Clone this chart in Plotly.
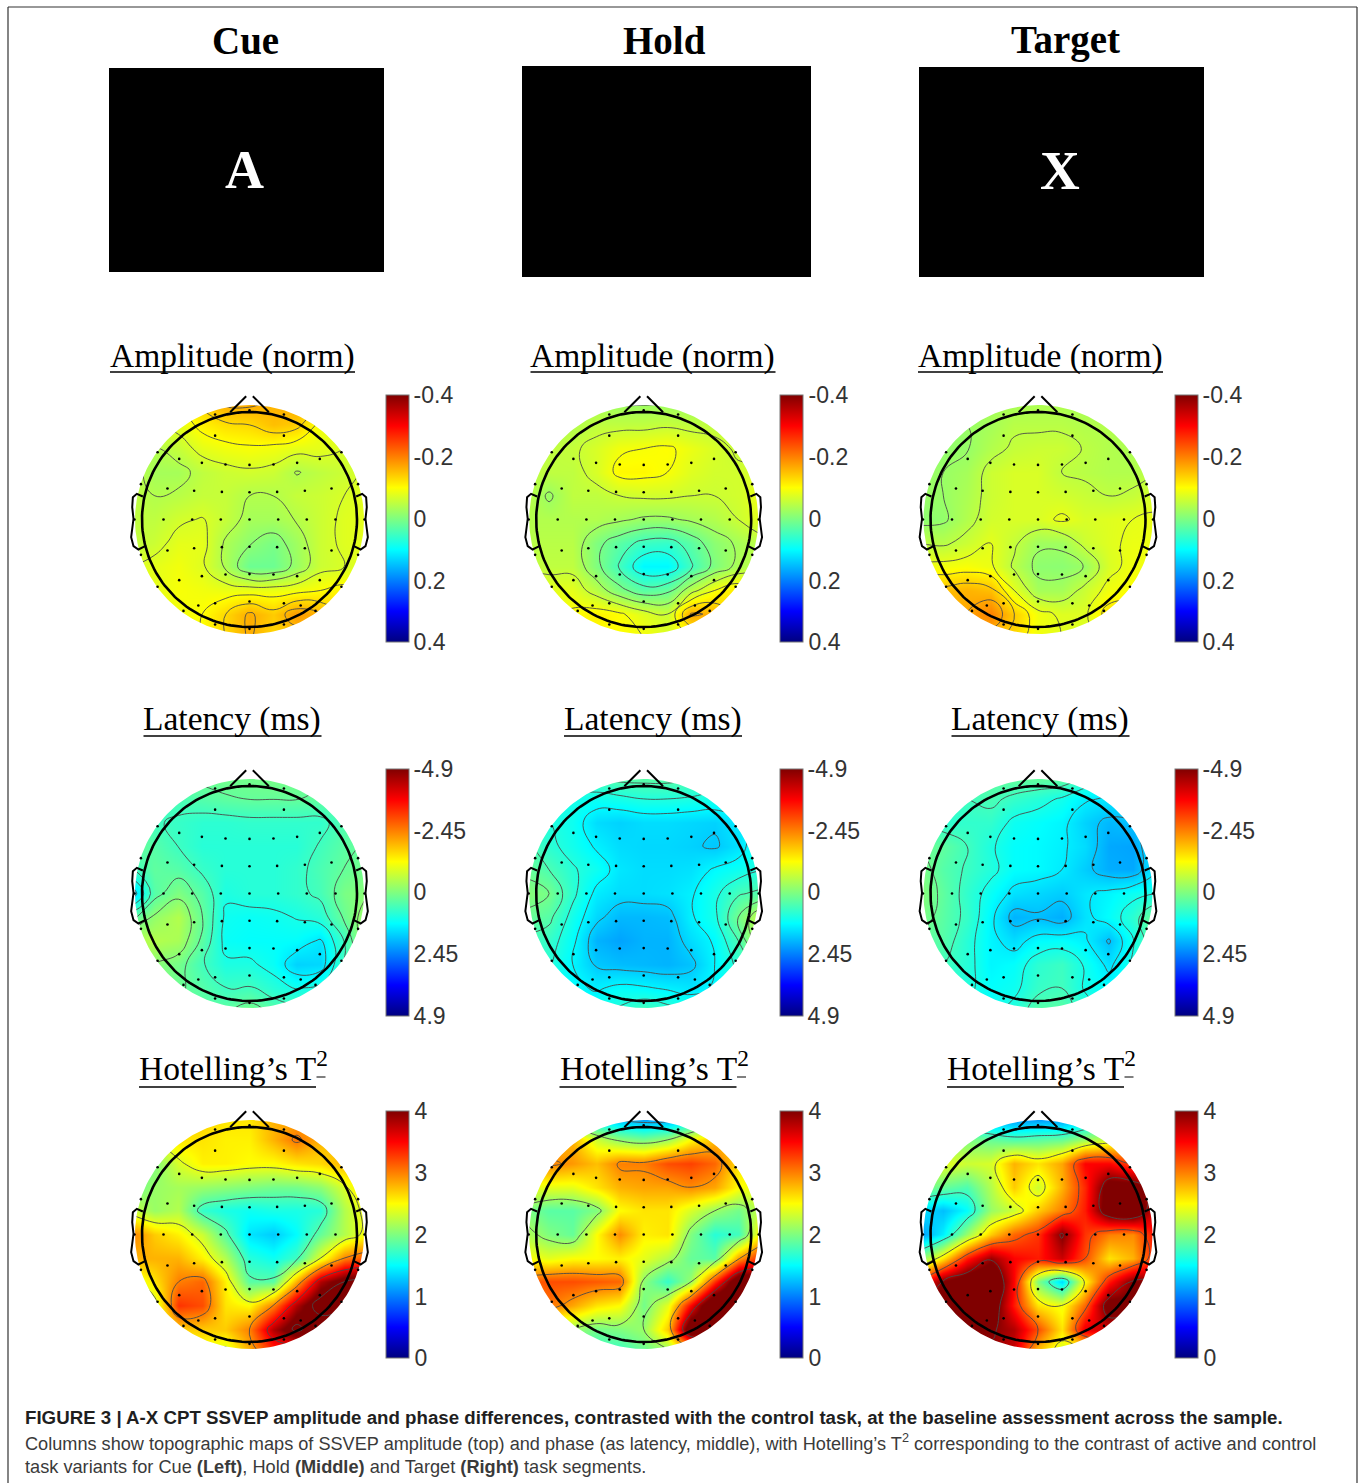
import numpy as np
import plotly.graph_objects as go

# ---------- values ----------
grid_x = [-1.1, -0.88, -0.66, -0.44, -0.22, 0, 0.22, 0.44, 0.66, 0.88, 1.1]
grid_y = [1.1, 0.88, 0.66, 0.44, 0.22, 0, -0.22, -0.44, -0.66, -0.88, -1.1]

amp_cue = [
 [-.08,-.08,-.1,-.14,-.17,-.17,-.16,-.17,-.13,-.08,-.08],
 [-.07,-.07,-.08,-.11,-.125,-.13,-.15,-.14,-.09,-.075,-.07],
 [-.05,-.04,-.055,-.08,-.09,-.095,-.09,-.08,-.08,-.07,-.07],
 [-.05,-.03,-.03,-.05,-.06,-.065,-.06,-.038,-.05,-.06,-.075],
 [-.05,-.04,-.045,-.055,-.055,-.04,-.04,-.055,-.06,-.07,-.08],
 [-.05,-.05,-.065,-.072,-.055,-.03,-.03,-.042,-.06,-.075,-.08],
 [-.05,-.06,-.08,-.08,-.035,-.012,.005,-.025,-.06,-.075,-.08],
 [-.07,-.08,-.09,-.075,-.035,.015,.015,-.02,-.06,-.07,-.08],
 [-.08,-.08,-.095,-.09,-.085,-.085,-.085,-.09,-.1,-.11,-.1],
 [-.08,-.08,-.09,-.1,-.13,-.165,-.14,-.18,-.16,-.12,-.1],
 [-.08,-.08,-.09,-.1,-.13,-.165,-.13,-.14,-.13,-.1,-.1]]
amp_hold = [
 [-.03,-.03,-.03,-.03,-.02,-.02,-.02,-.02,-.03,-.03,-.03],
 [-.04,-.04,-.04,-.05,-.05,-.05,-.055,-.05,-.05,-.04,-.04],
 [-.05,-.05,-.055,-.07,-.09,-.095,-.1,-.085,-.07,-.055,-.05],
 [-.05,-.05,-.05,-.07,-.105,-.105,-.095,-.075,-.065,-.065,-.07],
 [-.05,-.02,-.05,-.05,-.06,-.065,-.065,-.06,-.06,-.065,-.09],
 [-.04,-.04,-.04,-.04,-.03,-.02,-.02,-.03,-.04,-.06,-.08],
 [-.045,-.045,-.045,-.0,.03,.055,.06,.03,-.01,-.03,-.05],
 [-.055,-.05,-.05,.0,.05,.105,.105,.05,.0,-.035,-.05],
 [-.09,-.08,-.08,-.045,.0,.03,.02,-.045,-.095,-.12,-.09],
 [-.09,-.09,-.1,-.11,-.1,-.075,-.06,-.17,-.16,-.12,-.09],
 [-.09,-.09,-.09,-.1,-.1,-.095,-.075,-.09,-.1,-.09,-.09]]
amp_target = [
 [-.03,-.03,-.03,-.03,-.03,-.035,-.035,-.03,-.03,-.03,-.03],
 [-.02,-.015,-.02,-.03,-.045,-.045,-.045,-.04,-.04,-.03,-.03],
 [-.02,-.015,-.018,-.04,-.055,-.06,-.06,-.048,-.04,-.035,-.035],
 [-.02,-.02,-.03,-.06,-.07,-.07,-.05,-.045,-.04,-.04,-.05],
 [-.02,-.02,-.035,-.06,-.07,-.07,-.065,-.058,-.05,-.055,-.07],
 [-.01,-.015,-.04,-.065,-.07,-.07,-.085,-.07,-.075,-.08,-.085],
 [-.05,-.045,-.06,-.08,-.055,-.025,-.025,-.06,-.075,-.085,-.085],
 [-.09,-.09,-.095,-.085,-.045,-.012,-.01,-.021,-.07,-.09,-.09],
 [-.16,-.15,-.16,-.15,-.08,-.03,-.03,-.06,-.09,-.1,-.1],
 [-.16,-.16,-.17,-.2,-.14,-.09,-.075,-.075,-.125,-.12,-.1],
 [-.14,-.14,-.15,-.15,-.13,-.09,-.08,-.07,-.09,-.09,-.09]]
lat_cue = [
 [.2,.2,.2,.15,.1,.1,.05,.1,.2,.2,.2],
 [.5,.5,.5,.4,.3,.25,.25,.25,.3,.3,.3],
 [.4,.6,.7,.8,.8,.75,.75,.75,.75,.45,.3],
 [.2,.4,.65,.85,.85,.85,.85,.85,.6,.35,.2],
 [.7,.3,.4,.7,.85,.85,.85,.75,.5,.25,.1],
 [1.7,.4,.0,.4,.95,.85,.85,.75,.55,.05,-.1],
 [.4,-.2,-.5,.25,1.1,1.15,1.1,1.0,.85,.2,-.35],
 [-.5,-.5,-.4,.35,1.15,1.2,1.2,1.2,1.45,.65,-.5],
 [-.3,-.1,.1,.6,.95,.95,1.15,1.65,1.6,.6,-.2],
 [0,0,.2,.4,.65,.6,.85,1.05,.9,.5,.2],
 [.2,.2,.25,.3,.3,.05,.35,.45,.4,.3,.2]]
lat_hold = [
 [.6,.5,.5,.4,.3,.3,.3,.4,.6,.7,.7],
 [.9,.9,1.0,1.1,1.0,.9,.9,.95,1.0,.9,.8],
 [.9,.9,1.1,1.55,1.65,1.55,1.55,1.6,1.65,1.4,1.0],
 [.4,.8,1.05,1.35,1.55,1.6,1.6,1.65,1.75,1.5,.9],
 [.2,.5,.85,1.1,1.45,1.55,1.55,1.5,1.25,1.1,.9],
 [-.1,.1,.8,1.4,1.55,1.55,1.5,1.35,1.0,.55,.4],
 [.2,.4,1.05,1.6,1.9,1.9,1.85,1.35,1.0,.1,-.7],
 [.6,.7,1.2,1.95,2.1,1.95,1.95,1.55,1.25,.5,-.8],
 [.7,.85,1.3,1.75,1.85,1.9,1.95,1.8,1.3,.8,.3],
 [.9,1.0,1.2,1.35,1.2,1.25,1.35,1.45,1.25,.9,.8],
 [1.0,1.0,1.1,1.0,.8,.5,.7,.9,.9,.9,.9]]
lat_target = [
 [.4,.4,.3,.3,.2,.2,.2,.6,.9,.9,.9],
 [.7,.7,.6,.5,.7,.85,1.05,1.35,1.45,1.3,1.1],
 [.7,.8,.75,.75,1.1,1.2,1.3,1.65,1.9,1.8,1.3],
 [.2,.3,.6,.95,1.2,1.25,1.35,1.55,2.05,2.1,1.3],
 [.0,.4,.65,.9,1.2,1.25,1.4,1.7,2.0,2.05,1.4],
 [-.1,.3,.75,1.15,1.5,1.6,1.7,1.45,1.3,1.1,1.0],
 [.0,.35,.7,1.3,1.95,1.85,2.0,1.5,1.2,.8,.1],
 [.3,.4,.85,1.3,1.55,1.25,1.2,1.35,1.85,1.05,.2],
 [.4,.6,.85,1.3,1.2,.8,.65,1.05,1.5,.95,.5],
 [.8,.8,.9,1.2,1.1,.7,.6,1.05,1.2,1.0,.8],
 [.9,.9,1.0,1.1,.85,.35,.35,.8,1.0,.9,.9]]
hot_cue = [
 [2.5,2.6,2.7,2.7,2.6,2.6,2.8,2.8,2.8,2.7,2.6],
 [2.2,2.4,2.6,2.6,2.55,2.55,2.8,3.05,2.8,2.7,2.6],
 [1.9,2.0,2.35,2.55,2.55,2.5,2.5,2.6,2.65,2.8,2.8],
 [1.9,2.1,2.15,2.1,2.05,2.0,1.95,1.95,2.05,2.35,2.7],
 [2.3,2.1,2.2,1.7,1.6,1.55,1.6,1.6,1.65,2.2,2.5],
 [3.0,2.7,2.55,2.3,1.85,1.4,1.3,1.5,1.9,2.2,2.5],
 [2.8,2.8,2.8,2.55,2.2,1.65,1.55,1.75,2.4,3.0,3.2],
 [2.3,2.6,3.0,3.1,2.55,1.85,1.85,2.8,3.8,4.2,4.3],
 [2.0,2.3,3.3,3.2,2.6,2.5,3.0,3.8,4.4,4.4,4.2],
 [2.2,2.2,2.7,2.7,2.7,3.0,3.8,4.3,3.9,3.5,3.2],
 [2.0,2.0,2.2,2.4,2.3,2.8,3.3,3.2,3.0,2.8,2.8]]
hot_hold = [
 [1.8,1.6,1.5,1.3,1.1,1.0,1.0,1.2,1.6,1.8,1.9],
 [2.5,2.7,2.8,2.3,2.05,1.95,2.1,2.5,2.75,2.6,2.5],
 [2.8,3.0,2.9,2.75,3.0,3.0,3.2,3.25,3.1,2.6,2.5],
 [2.4,2.4,2.4,2.6,2.8,2.85,2.85,2.95,2.85,2.5,2.4],
 [2.0,1.85,1.85,2.0,2.5,2.6,2.6,2.35,2.1,1.95,2.3],
 [2.2,2.0,1.9,2.5,2.95,2.55,2.6,2.0,1.65,1.75,2.6],
 [2.5,2.4,2.5,2.5,2.55,2.4,2.2,1.9,1.85,2.9,3.4],
 [3.1,3.2,3.2,3.15,3.1,2.05,1.7,2.1,3.3,4.4,4.4],
 [2.8,3.05,2.85,2.6,2.5,1.95,2.4,3.5,4.6,4.6,4.2],
 [2.2,2.2,2.1,1.95,2.0,2.1,2.7,4.4,4.2,3.5,3.2],
 [2.0,1.9,1.8,1.7,1.7,1.9,2.0,2.5,2.4,2.4,2.3]]
hot_target = [
 [1.6,1.5,1.3,1.1,1.0,1.0,1.0,1.2,1.5,1.8,2.2],
 [2.3,2.1,2.0,1.9,1.8,1.85,1.9,2.1,2.3,2.5,2.7],
 [2.4,2.4,2.3,2.35,2.8,2.6,2.85,3.5,3.5,3.2,3.4],
 [2.0,1.9,1.8,2.2,2.7,2.3,2.8,3.35,4.2,4.2,3.7],
 [1.4,1.25,1.5,2.1,2.3,2.7,3.0,3.4,4.25,4.4,3.6],
 [1.1,1.45,2.1,2.7,3.1,3.3,4.0,3.3,3.0,2.95,3.5],
 [2.0,2.6,3.4,3.9,3.5,3.4,3.7,3.2,2.6,2.8,3.4],
 [3.3,4.0,4.3,4.5,3.5,2.0,1.35,2.5,3.4,4.0,4.0],
 [3.6,4.3,4.4,4.3,3.4,2.6,2.45,3.1,4.2,4.1,3.8],
 [3.6,3.8,4.0,4.0,3.8,3.2,2.6,3.6,3.7,3.5,3.4],
 [3.4,3.6,3.7,3.9,3.7,2.7,2.3,2.3,2.4,2.5,2.5]]

panels = [amp_cue, amp_hold, amp_target,
          lat_cue, lat_hold, lat_target,
          hot_cue, hot_hold, hot_target]
# lowest contour level and level spacing per panel (colour scale units, as drawn)
contour_start = [.01, -.08, .02, -1.4, -1.7, -1.8, 1.8, 1.25, 1.7]
contour_step = [.03, .035, .03, .38, .4, .4, .6, .85, .75]

electrode_x = [-.32,0,.32, -.32,.32,
    -.855,-.654,-.443,-.223,0,.223,.443,.654,.855,
    -1.01,-.763,-.515,-.257,0,.257,.515,.763,1.01,
    -1.07,-.8,-.533,-.267,0,.267,.533,.8,1.07,
    -1.01,-.763,-.515,-.257,0,.257,.515,.763,1.01,
    -.855,-.654,-.443,-.223,0,.223,.443,.654,.855,
    -.614,-.476,-.32,0,.32,.476,.614, -.32,0,.32]
electrode_y = [.977,1.015,.977, .78,.78,
    .626,.564,.527,.512,.508,.512,.527,.564,.626,
    .329,.288,.267,.257,.254,.257,.267,.288,.329,
    0,0,0,0,0,0,0,0,0,
    -.329,-.288,-.267,-.257,-.254,-.257,-.267,-.288,-.329,
    -.626,-.564,-.527,-.512,-.508,-.512,-.527,-.564,-.626,
    -.85,-.8,-.78,-.763,-.78,-.8,-.85, -.977,-1.017,-.977]
nose_x = [-.18,-.031,None,.031,.18]
nose_y = [.998,1.147,None,1.147,.998]
ear_x = [-.992,-1.048,-1.085,-1.091,-1.079,-1.101,-1.079,-1.033,-.971]
ear_y = [.214,.239,.208,.115,.006,-.164,-.248,-.279,-.248]

amp_ticks = ['-0.4', '-0.2', '0', '0.2', '0.4']
lat_ticks = ['-4.9', '-2.45', '0', '2.45', '4.9']
hot_ticks = ['4', '3', '2', '1', '0']
column_titles = ['Cue', 'Hold', 'Target']
row_titles = ['Amplitude (norm)', 'Latency (ms)', 'Hotelling’s T']
caption_1 = '<b>FIGURE 3 | A-X CPT SSVEP amplitude and phase differences, contrasted with the control task, at the baseline assessment across the sample.</b>'
caption_2 = 'Columns show topographic maps of SSVEP amplitude (top) and phase (as latency, middle), with Hotelling’s T<sup>2</sup> corresponding to the contrast of active and control'
caption_3 = 'task variants for Cue <b>(Left)</b>, Hold <b>(Middle)</b> and Target <b>(Right)</b> task segments.'

# ---------- layout constants (pixels of the 1360x1483 page) ----------
W, H = 1360, 1483
HEAD_PX = 107.5
AXIS_HALF = 1.25
COL_CX = [249.5, 643.7, 1038]
ROW_CY = [519.5, 893.5, 1234.5]
BAR_X = [385.5, 780, 1174.5]
BAR_T = [395.5, 769, 1111.5]
BAR_LEN = 246.5
TICK_GAP = [[0, 1, 0], [0, 0, 0], [1, 1, 1]]
SERIF = 'Liberation Serif'
SANS = 'Liberation Sans'

JET = [[0, 'rgb(0,0,128)'], [.125, 'rgb(0,0,255)'], [.375, 'rgb(0,255,255)'],
       [.625, 'rgb(255,255,0)'], [.875, 'rgb(255,0,0)'], [1, 'rgb(128,0,0)']]

def px(x):
    return x / W
def py(y):
    return 1 - y / H

# white surround hides everything outside the coloured disc
t = np.linspace(0, -2 * np.pi, 181)
S = AXIS_HALF + .05
mask_x = [S, S, -S, -S, S, S] + list(1.065 * np.cos(t))
mask_y = [0, S, S, -S, -S, 0] + list(1.065 * np.sin(t))
t2 = np.linspace(0, 2 * np.pi, 181)
circle_x, circle_y = np.cos(t2), np.sin(t2)

fig = go.Figure()
layout = {}
for r in range(3):
    for c in range(3):
        i = r * 3 + c
        name = '' if i == 0 else str(i + 1)
        half = AXIS_HALF * HEAD_PX
        layout['xaxis' + name] = dict(
            domain=[px(COL_CX[c] - half), px(COL_CX[c] + half)],
            range=[-AXIS_HALF, AXIS_HALF], visible=False, fixedrange=True,
            anchor='y' + name)
        layout['yaxis' + name] = dict(
            domain=[py(ROW_CY[r] + half), py(ROW_CY[r] - half)],
            range=[-AXIS_HALF, AXIS_HALF], visible=False, fixedrange=True,
            anchor='x' + name)
        xa, ya = 'x' + name, 'y' + name

        values = np.array(panels[i], dtype=float)
        # the first two rows have their warm end at the negative labels
        if r < 2:
            values = -values
        limit = [.4, 4.9, None][r]
        zmin, zmax = (-limit, limit) if limit else (0, 4)
        ticktext = [amp_ticks, lat_ticks, hot_ticks][r]
        tickvals = list(np.linspace(zmax, zmin, 5))

        fig.add_trace(go.Heatmap(
            x=grid_x, y=grid_y, z=values, xaxis=xa, yaxis=ya,
            colorscale=JET, zmin=zmin, zmax=zmax, zsmooth='best', hoverinfo='skip',
            colorbar=dict(
                x=px(BAR_X[c]), xanchor='left', xpad=0, ypad=0,
                y=py(BAR_T[r] + BAR_LEN / 2), yanchor='middle',
                len=BAR_LEN / H, lenmode='fraction',
                thickness=22.5, thicknessmode='pixels',
                outlinecolor='#777', outlinewidth=1,
                tickmode='array', tickvals=tickvals, ticktext=ticktext,
                ticks='outside', ticklen=TICK_GAP[r][c], tickcolor='rgba(0,0,0,0)',
                tickfont=dict(family=SANS, size=23, color='#333'))))
        # contour levels use the drawn sign
        lo = contour_start[i]
        fig.add_trace(go.Contour(
            x=grid_x, y=grid_y, z=values, xaxis=xa, yaxis=ya, showscale=False,
            contours=dict(coloring='none', start=lo, end=6, size=contour_step[i]),
            line=dict(color='#4a4a4a', width=.9, smoothing=1.3), hoverinfo='skip'))
        fig.add_trace(go.Scatter(
            x=mask_x, y=mask_y, xaxis=xa, yaxis=ya, mode='lines', fill='toself',
            fillcolor='white', line=dict(width=0, color='white'),
            hoverinfo='skip', showlegend=False))
        fig.add_trace(go.Scatter(
            x=electrode_x, y=electrode_y, xaxis=xa, yaxis=ya, mode='markers',
            marker=dict(size=2.6, color='black'), hoverinfo='skip', showlegend=False))
        fig.add_trace(go.Scatter(
            x=circle_x, y=circle_y, xaxis=xa, yaxis=ya, mode='lines',
            line=dict(color='black', width=2.6), hoverinfo='skip', showlegend=False))
        fig.add_trace(go.Scatter(
            x=nose_x + [None] + ear_x + [None] + [-v for v in ear_x],
            y=nose_y + [None] + ear_y + [None] + ear_y,
            xaxis=xa, yaxis=ya, mode='lines', line=dict(color='black', width=2),
            hoverinfo='skip', showlegend=False))

shapes = []
def rect(x0, y0, x1, y1, fill):
    shapes.append(dict(type='rect', xref='paper', yref='paper', layer='below',
                       x0=px(x0), x1=px(x1), y0=py(y1), y1=py(y0),
                       fillcolor=fill, line=dict(width=0)))
def rule(x0, y0, x1, y1, color='#222', width=1.4):
    shapes.append(dict(type='line', xref='paper', yref='paper', x0=px(x0), x1=px(x1),
                       y0=py(y0), y1=py(y1), line=dict(color=color, width=width)))

# frame, open at the bottom
rule(8, 7, 1357, 7, '#333', 1.2)
rule(8, 7, 8, 1483, '#333', 1.2)
rule(1357, 7, 1357, 1483, '#333', 1.2)
# stimulus screens
rect(109, 68, 384, 272, 'black')
rect(522, 66, 811, 277, 'black')
rect(919, 67, 1204, 277, 'black')

anns = []
def text(x, y, s, size, family=SERIF, color='black', anchor='center'):
    anns.append(dict(xref='paper', yref='paper', x=px(x), y=py(y), text=s, showarrow=False,
                     xanchor=anchor, yanchor='middle', align='left', borderpad=0,
                     font=dict(family=family, size=size, color=color)))

for x, s in zip([245, 664, 1065], column_titles):
    text(x, 40, '<b>%s</b>' % s, 39)
text(244.5, 170, '<b>A</b>', 54, color='white')
text(1060, 170, '<b>X</b>', 55, color='white')

sub_cx = [232.5, 653, 1040.5]
rule_half = [122.5, 89, 88.5]
sub_y = [356, 719, 1066]
rule_y = [372, 736, 1087]
for r, title in enumerate(row_titles):
    for c in range(3):
        if r < 2:
            text(sub_cx[c] - .5, sub_y[r], title, 33.5)
            rule(sub_cx[c] - rule_half[r], rule_y[r], sub_cx[c] + rule_half[r], rule_y[r], 'black', 1.4)
        else:
            text(sub_cx[c] - 94.5, sub_y[r], title + '<sup>2</sup>', 33.5, anchor='left')
            rule(sub_cx[c] - 93.5, rule_y[r], sub_cx[c] + 83.5, rule_y[r], 'black', 1.4)
            rule(sub_cx[c] + 84, rule_y[r] - 10, sub_cx[c] + 93, rule_y[r] - 10, 'black', 1)

text(24, 1417, caption_1, 18.7, SANS, '#1f1f1f', 'left')
text(24, 1442, caption_2, 18.15, SANS, '#3a3a3a', 'left')
text(24, 1467, caption_3, 18.2, SANS, '#3a3a3a', 'left')

fig.update_layout(width=W, height=H, autosize=False,
                  margin=dict(l=0, r=0, t=0, b=0, pad=0),
                  paper_bgcolor='white', plot_bgcolor='rgba(0,0,0,0)',
                  showlegend=False, shapes=shapes, annotations=anns, **layout)
fig.write_html('out.html', config=dict(displayModeBar=False),
               post_script="document.body.style.margin='0';")
